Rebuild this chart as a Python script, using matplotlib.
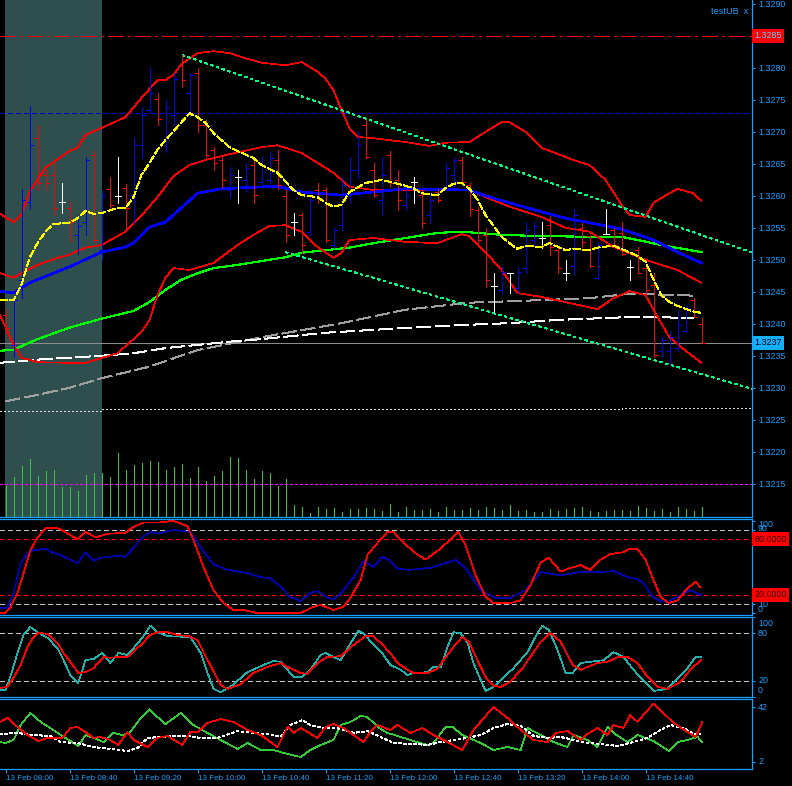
import numpy as np
import matplotlib
matplotlib.use("Agg")
import matplotlib.pyplot as plt

# ---- 5 minute bars, 13 Feb 08:00 ... 15:15 ----
opens = [1.32414, 1.32367, 1.32469, 1.32590, 1.32690, 1.32633, 1.32633, 1.32590, 1.32581, 1.32539,
         1.32559, 1.32664, 1.32515, 1.32611, 1.32600, 1.32612, 1.32601, 1.32679, 1.32734, 1.32751,
         1.32687, 1.32726, 1.32804, 1.32761, 1.32792, 1.32711, 1.32672, 1.32656, 1.32609, 1.32629,
         1.32625, 1.32648, 1.32622, 1.32625, 1.32656, 1.32600, 1.32559, 1.32570, 1.32544, 1.32609,
         1.32609, 1.32523, 1.32554, 1.32601, 1.32640, 1.32711, 1.32640, 1.32594, 1.32664, 1.32625,
         1.32586, 1.32622, 1.32601, 1.32570, 1.32606, 1.32614, 1.32633, 1.32656, 1.32617, 1.32578,
         1.32539, 1.32459, 1.32453, 1.32479, 1.32456, 1.32487, 1.32531, 1.32534, 1.32554, 1.32515,
         1.32479, 1.32490, 1.32550, 1.32537, 1.32472, 1.32540, 1.32547, 1.32542, 1.32489, 1.32515,
         1.32487, 1.32461, 1.32358, 1.32358, 1.32362, 1.32389, 1.32437, 1.32400]
highs = [1.32422, 1.32440, 1.32611, 1.32740, 1.32711, 1.32640, 1.32653, 1.32620, 1.32590, 1.32570,
         1.32661, 1.32670, 1.32609, 1.32629, 1.32661, 1.32619, 1.32690, 1.32739, 1.32800, 1.32761,
         1.32750, 1.32792, 1.32820, 1.32792, 1.32800, 1.32719, 1.32676, 1.32664, 1.32645, 1.32640,
         1.32651, 1.32661, 1.32661, 1.32669, 1.32672, 1.32609, 1.32573, 1.32573, 1.32598, 1.32620,
         1.32614, 1.32550, 1.32629, 1.32661, 1.32700, 1.32720, 1.32651, 1.32661, 1.32670, 1.32640,
         1.32609, 1.32629, 1.32609, 1.32598, 1.32611, 1.32651, 1.32661, 1.32661, 1.32620, 1.32583,
         1.32550, 1.32479, 1.32490, 1.32479, 1.32489, 1.32559, 1.32559, 1.32559, 1.32569, 1.32522,
         1.32500, 1.32580, 1.32558, 1.32539, 1.32528, 1.32580, 1.32550, 1.32559, 1.32500, 1.32520,
         1.32490, 1.32479, 1.32379, 1.32389, 1.32420, 1.32429, 1.32440, 1.32409]
lows = [1.32386, 1.32348, 1.32440, 1.32580, 1.32609, 1.32609, 1.32570, 1.32573, 1.32528, 1.32509,
        1.32539, 1.32528, 1.32500, 1.32578, 1.32589, 1.32550, 1.32558, 1.32659, 1.32729, 1.32711,
        1.32669, 1.32711, 1.32770, 1.32726, 1.32700, 1.32659, 1.32640, 1.32612, 1.32598, 1.32589,
        1.32606, 1.32589, 1.32614, 1.32614, 1.32611, 1.32528, 1.32539, 1.32511, 1.32539, 1.32589,
        1.32528, 1.32519, 1.32547, 1.32589, 1.32628, 1.32659, 1.32598, 1.32570, 1.32614, 1.32578,
        1.32578, 1.32589, 1.32550, 1.32558, 1.32590, 1.32609, 1.32609, 1.32619, 1.32569, 1.32526,
        1.32458, 1.32419, 1.32448, 1.32448, 1.32448, 1.32479, 1.32520, 1.32519, 1.32508, 1.32479,
        1.32469, 1.32478, 1.32520, 1.32489, 1.32470, 1.32540, 1.32520, 1.32508, 1.32469, 1.32479,
        1.32440, 1.32348, 1.32348, 1.32337, 1.32358, 1.32387, 1.32411, 1.32370]
closes = [1.32394, 1.32437, 1.32594, 1.32679, 1.32620, 1.32620, 1.32581, 1.32590, 1.32559, 1.32553,
          1.32656, 1.32531, 1.32600, 1.32586, 1.32600, 1.32581, 1.32679, 1.32726, 1.32761, 1.32720,
          1.32737, 1.32783, 1.32781, 1.32789, 1.32711, 1.32664, 1.32651, 1.32625, 1.32633, 1.32629,
          1.32644, 1.32601, 1.32648, 1.32659, 1.32617, 1.32539, 1.32559, 1.32523, 1.32594, 1.32597,
          1.32531, 1.32547, 1.32617, 1.32640, 1.32679, 1.32661, 1.32601, 1.32633, 1.32620, 1.32594,
          1.32601, 1.32622, 1.32558, 1.32594, 1.32594, 1.32644, 1.32656, 1.32622, 1.32580, 1.32531,
          1.32469, 1.32459, 1.32481, 1.32479, 1.32481, 1.32547, 1.32553, 1.32534, 1.32520, 1.32487,
          1.32479, 1.32570, 1.32528, 1.32490, 1.32523, 1.32540, 1.32523, 1.32509, 1.32489, 1.32479,
          1.32453, 1.32351, 1.32375, 1.32379, 1.32398, 1.32425, 1.32411, 1.32370]
volumes = [155, 200, 255, 290, 205, 230, 235, 150, 150, 130, 210, 220, 220, 200, 320, 235, 260, 270,
           280, 275, 235, 250, 265, 195, 250, 180, 205, 230, 300, 295, 235, 190, 230, 220, 155, 190,
           60, 50, 20, 50, 40, 45, 25, 40, 40, 45, 40, 30, 65, 25, 50, 35, 35, 40, 25, 50, 35, 35,
           45, 35, 50, 45, 35, 60, 30, 35, 25, 25, 40, 30, 40, 45, 50, 30, 25, 30, 35, 35, 30, 55,
           45, 30, 40, 25, 50, 40, 30, 50]
time_labels = ["13 Feb 08:00", "13 Feb 08:40", "13 Feb 09:20", "13 Feb 10:00", "13 Feb 10:40",
               "13 Feb 11:20", "13 Feb 12:00", "13 Feb 12:40", "13 Feb 13:20", "13 Feb 14:00",
               "13 Feb 14:40"]
price_ticks = [1.3215, 1.3220, 1.3225, 1.3230, 1.3235, 1.3240, 1.3245, 1.3250, 1.3255, 1.3260,
               1.3265, 1.3270, 1.3275, 1.3280, 1.3285, 1.3290]

# ---- indicator lines on the price chart (bar position, value) ----
band_up_t = [-0.7, 1, 2, 3, 5, 8, 9, 10, 12, 15, 17, 19, 20, 21, 22, 24, 26, 28, 30, 32, 35, 37, 39, 40,
             41, 42, 43, 44, 46, 50, 53, 55, 58, 60, 62, 63, 65, 67, 71, 73, 75, 77, 78, 80, 81, 83,
             84, 86, 87]
band_up_v = [1.32572, 1.32559, 1.32570, 1.32606, 1.32644, 1.32670, 1.32675, 1.32695, 1.32706, 1.32723,
             1.32753, 1.32781, 1.32781, 1.32789, 1.32806, 1.32823, 1.32826, 1.32823, 1.32815, 1.32808,
             1.32804, 1.32809, 1.32794, 1.32783, 1.32765, 1.32734, 1.32706, 1.32692, 1.32690, 1.32684,
             1.32678, 1.32683, 1.32684, 1.32700, 1.32715, 1.32715, 1.32700, 1.32675, 1.32656, 1.32648,
             1.32625, 1.32586, 1.32570, 1.32567, 1.32589, 1.32604, 1.32611, 1.32604, 1.32592]
band_mid_t = [-0.7, 1, 2, 4, 6, 8, 10, 12, 15, 17, 19, 21, 23, 25, 28, 32, 34, 37, 41, 43, 46, 54, 58,
              60, 63, 67, 70, 73, 76, 80, 84, 87]
band_mid_v = [1.32479, 1.32472, 1.32479, 1.32492, 1.32501, 1.32508, 1.32519, 1.32523, 1.32544, 1.32569,
              1.32598, 1.32631, 1.32648, 1.32656, 1.32665, 1.32676, 1.32679, 1.32667, 1.32636, 1.32614,
              1.32609, 1.32609, 1.32609, 1.32598, 1.32583, 1.32567, 1.32550, 1.32544, 1.32520, 1.32500,
              1.32484, 1.32464]
band_dn_t = [-0.7, 1, 2, 4, 8, 10, 14, 17, 18, 19, 20, 21, 23, 26, 29, 31, 33, 35, 37, 39, 41, 42, 43,
             46, 50, 54, 57, 58, 60, 62, 64, 67, 71, 74, 76, 78, 80, 81, 82, 83, 85, 87]
band_dn_v = [1.32414, 1.32367, 1.32347, 1.32340, 1.32339, 1.32339, 1.32354, 1.32387, 1.32406, 1.32445,
             1.32472, 1.32487, 1.32484, 1.32495, 1.32523, 1.32539, 1.32553, 1.32554, 1.32544, 1.32520,
             1.32503, 1.32511, 1.32531, 1.32534, 1.32528, 1.32526, 1.32540, 1.32537, 1.32512, 1.32484,
             1.32448, 1.32442, 1.32431, 1.32423, 1.32440, 1.32451, 1.32445, 1.32422, 1.32400, 1.32379,
             1.32358, 1.32339]
ma_blue_t = [-0.7, 1, 3, 8, 12, 15, 16, 18, 20, 24, 27, 34, 37, 42, 50, 58, 60, 63, 67, 70, 73, 77, 81,
             84, 87]
ma_blue_v = [1.32451, 1.32448, 1.32464, 1.32489, 1.32512, 1.32520, 1.32526, 1.32551, 1.32559, 1.32604,
             1.32611, 1.32615, 1.32606, 1.32601, 1.32611, 1.32609, 1.32600, 1.32589, 1.32575, 1.32565,
             1.32558, 1.32548, 1.32531, 1.32512, 1.32495]
ma_green_t = [-0.7, 1, 2, 4, 8, 12, 14, 16, 18, 20, 22, 24, 26, 29, 32, 35, 37, 43, 46, 50, 54, 57, 62,
              67, 73, 77, 79, 82, 87]
ma_green_v = [1.32358, 1.32359, 1.32365, 1.32376, 1.32394, 1.32408, 1.32414, 1.32420, 1.32434, 1.32453,
              1.32469, 1.32479, 1.32487, 1.32492, 1.32498, 1.32504, 1.32511, 1.32519, 1.32526, 1.32534,
              1.32542, 1.32544, 1.32539, 1.32537, 1.32536, 1.32536, 1.32531, 1.32523, 1.32512]
ma_white_t = [-0.7, 4, 8, 12, 16, 20, 24, 28, 32, 40, 48, 55, 63, 69, 73, 79, 86]
ma_white_v = [1.32339, 1.32344, 1.32347, 1.32350, 1.32354, 1.32362, 1.32367, 1.32372, 1.32376, 1.32386,
              1.32392, 1.32397, 1.32401, 1.32406, 1.32408, 1.32411, 1.32409]
ma_grey_t = [0, 4, 8, 12, 18, 24, 32, 42, 50, 58, 67, 73, 78, 86]
ma_grey_v = [1.32279, 1.32289, 1.32300, 1.32315, 1.32333, 1.32359, 1.32379, 1.32401, 1.32422, 1.32433,
             1.32437, 1.32440, 1.32447, 1.32444]
fast_t = [-0.7, 1, 2, 3, 4, 5, 6, 8, 9, 10, 11, 12, 14, 15, 16, 17, 18, 19, 20, 22, 23, 24, 25, 26, 28,
          29, 31, 32, 34, 36, 37, 39, 40, 41, 42, 43, 45, 47, 49, 51, 52, 54, 55, 56, 57, 58, 59, 60,
          61, 62, 63, 64, 65, 67, 68, 70, 71, 73, 74, 76, 77, 79, 80, 81, 82, 83, 84, 86, 87]
fast_v = [1.32437, 1.32437, 1.32461, 1.32503, 1.32526, 1.32544, 1.32556, 1.32558, 1.32565, 1.32576,
          1.32572, 1.32573, 1.32581, 1.32581, 1.32598, 1.32633, 1.32651, 1.32672, 1.32687, 1.32715,
          1.32729, 1.32723, 1.32714, 1.32698, 1.32676, 1.32670, 1.32659, 1.32648, 1.32636, 1.32609,
          1.32601, 1.32598, 1.32589, 1.32583, 1.32586, 1.32606, 1.32620, 1.32625, 1.32619, 1.32612,
          1.32604, 1.32601, 1.32612, 1.32619, 1.32620, 1.32611, 1.32594, 1.32570, 1.32553, 1.32536,
          1.32526, 1.32517, 1.32522, 1.32520, 1.32526, 1.32515, 1.32517, 1.32515, 1.32519, 1.32522,
          1.32517, 1.32506, 1.32497, 1.32469, 1.32444, 1.32434, 1.32428, 1.32419, 1.32417]
trend_up_t = [22.1, 93.4]
trend_up_v = [1.32820, 1.32511]
trend_dn_t = [35.0, 93.4]
trend_dn_v = [1.32512, 1.32298]
support_t = [-0.7, 12, 77, 93.4]
support_v = [1.32264, 1.32267, 1.32269, 1.32269]
level_resist = 1.3285
level_blue = 1.32729
last_price = 1.3237
vol_level = 165

# ---- sub window 1 (0..100) ----
osc1_red_t = [-0.7, 0, 0.6, 1.5, 2.25, 3.1, 4, 5, 6.5, 7.25, 9, 10, 11.25, 12.75, 15, 15.9, 17.25, 19, 21,
              22.75, 23.5, 24.75, 26, 27.25, 28.5, 29.75, 31.5, 36.9, 38.5, 39.4, 41, 42.25, 43.1, 44.4,
              45.25, 46.5, 47.75, 48.5, 49.4, 51.25, 52.5, 54.4, 56.6, 57.5, 58.75, 60, 61, 63.1, 64.4,
              65.6, 66.9, 67.9, 69.4, 70.6, 71.9, 73.1, 74.4, 75.6, 77.25, 77.9, 79, 80, 81, 81.9, 82.9,
              84, 85.25, 86.25, 86.9]
osc1_red_v = [0.3, 0.3, 6, 22, 43, 68, 82, 92, 92, 89, 80, 88, 82, 86, 87, 93, 98, 98, 100, 94, 79, 50,
              25, 11, 3.5, 3.5, 0.3, 0.3, 7, 9, 3.5, 7, 16.5, 36, 63, 76, 88, 88, 79, 65, 58, 70, 88, 74,
              41, 18, 11, 11, 14, 30, 55, 60, 45, 49, 52, 47, 58, 64, 66, 69.5, 69.5, 58, 36, 17.6, 11,
              14, 27, 34, 28]
osc1_blue_t = [-0.7, 0.25, 1, 1.9, 2.75, 3.5, 5, 6, 6.9, 9, 10, 11, 11.9, 14, 15, 17.1, 18.1, 19, 21,
               23.1, 24.4, 26, 27.75, 30.25, 31.9, 33.1, 34.4, 35.6, 36.9, 38.1, 39, 40.25, 41, 41.9,
               43.5, 44.75, 46, 47.1, 48.1, 49.1, 50.6, 53.1, 56.25, 57.5, 59.4, 61.25, 63.1, 65, 66.9,
               69.4, 71.9, 74.4, 76, 77.75, 79, 79.75, 80.9, 81.9, 82.75, 84.4, 85.6, 86.9]
osc1_blue_v = [5.7, 5.7, 22, 54, 65, 68, 70, 65, 63, 54, 66, 56.5, 60, 62, 61, 82, 88, 86, 90, 88, 71,
               53, 47, 43.5, 39, 38, 28.4, 17.6, 13.2, 22, 24, 16.5, 15.4, 21, 39, 56.5, 50, 61, 56.5,
               48, 47, 49, 57.6, 49, 25, 16.5, 16.5, 25, 44.6, 41, 44.6, 44.6, 45.7, 39, 37, 32.7, 17.6,
               13.2, 12.2, 19.7, 25, 19.7]

# ---- sub window 2 (0..100) ----
osc2_teal_t = [-0.7, 0, 0.6, 1.5, 2.25, 3.1, 4, 5.25, 6.5, 7.25, 8.1, 9.1, 10, 11, 12.1, 13.1, 14.1,
               15.25, 16, 17.1, 18.1, 19, 20.25, 23.1, 24.4, 25.25, 26, 26.9, 28.1, 30.25, 32.25, 33.5,
               34.4, 36, 37.1, 38.1, 39.4, 40, 41, 41.9, 42.75, 44.1, 44.75, 46, 47.25, 48.1, 49.4,
               50.25, 51, 52.75, 53.5, 54.4, 55.25, 56, 56.9, 57.75, 58.5, 59.4, 60, 61, 63.5, 65.25,
               66.5, 67.1, 67.9, 69, 70, 70.9, 71.9, 73.1, 74.75, 76, 77.25, 78.5, 79.75, 81, 82.75,
               83.5, 85.25, 86.25, 86.9]
osc2_teal_v = [8.75, 8.75, 25, 55, 77.5, 87.5, 81, 74, 61, 46, 27.5, 17.5, 46, 47.5, 55, 42.5, 55, 52.5,
               61, 74, 89, 81, 76, 75, 55, 30, 10, 6, 12.5, 31, 40, 45, 44, 25, 25, 34, 52.5, 55, 50, 46,
               61, 82.5, 80, 65, 52.5, 40, 34, 27.5, 30, 31, 37.5, 37.5, 62.5, 81, 80, 67.5, 42.5, 21,
               7.5, 12.5, 36, 56, 80, 89, 84, 59, 30, 30, 42.5, 44, 46, 56, 50, 34, 20, 7.5, 10, 17.5,
               36, 50, 50]
osc2_red_t = [-0.7, 0.25, 1, 1.9, 2.75, 3.5, 4.1, 5.25, 6.5, 7.25, 8.4, 9.1, 10, 11, 12.25, 13.1, 14,
              15.25, 16.9, 18.1, 19, 20.25, 21.5, 22.9, 24, 24.75, 25.9, 26.9, 27.75, 29.4, 31, 32.75,
              34.4, 35.25, 36.9, 37.75, 39, 40.25, 41.9, 43.5, 45, 45.9, 46.9, 48.1, 49, 50.25, 51,
              52.75, 54, 54.75, 56, 57.1, 57.9, 59, 60, 61, 61.9, 63.1, 64.75, 66.9, 68.1, 69.4, 70.9,
              71.9, 74, 75.25, 76.6, 77.75, 79, 80.25, 81.5, 82.75, 84.4, 85.6, 86.9]
osc2_red_v = [11.25, 12.5, 24, 40, 62.5, 75, 80, 79, 67.5, 55, 40, 30, 31, 36, 50, 49, 50, 50, 65, 77.5,
              81, 81, 77.5, 76, 71, 56, 34, 15, 10, 16, 30, 37.5, 42.5, 37.5, 30, 29, 42.5, 50, 51, 65,
              76, 76, 67.5, 55, 42.5, 34, 30, 30, 35, 46, 62.5, 75, 69, 46, 25, 14, 12.5, 19, 37.5, 69,
              80, 69, 40, 34, 42.5, 44, 50, 50, 42.5, 25, 12.5, 10, 19, 34, 46]

# ---- sub window 3 ----
osc3_red_t = [-0.7, 0.25, 1.5, 2.75, 4.1, 5.25, 7.1, 8.1, 9, 10, 11, 11.9, 13.1, 14.1, 15.25, 16, 17.75,
              19, 20.25, 22.1, 23.1, 24, 25.25, 26.9, 28.5, 30.25, 31.9, 34, 35.25, 36, 36.9, 39, 40,
              41, 42.25, 43.5, 44.75, 45.6, 46.5, 48.1, 49, 50.6, 52.1, 53.5, 55.25, 57.1, 58.5, 61,
              62.75, 64.4, 66, 67.75, 68.75, 70.25, 71.9, 72.75, 74, 75.25, 76, 77.25, 78.1, 79, 80.25,
              81, 82.25, 83.5, 85.25, 86.25, 87.1]
osc3_red_v = [31.1, 34, 27.5, 21.6, 17.3, 19.5, 19.5, 26.7, 27.5, 23.8, 19.5, 20.2, 18, 14.4, 23.8, 18,
              12.9, 19.5, 20.9, 14.4, 23.8, 23.8, 30.4, 33.3, 31.1, 25.3, 21.6, 12.9, 27.5, 23.1, 26.7,
              19.5, 27.5, 29.6, 26.7, 21.6, 16.5, 23.8, 28.9, 25.3, 28.9, 23.1, 26.7, 21.6, 16.5, 10.7,
              25.3, 42, 34, 25.3, 18, 16.5, 23.1, 24.5, 18, 22.4, 26.7, 21.6, 28.9, 26.7, 36.2, 31.1,
              39.8, 44.2, 37.6, 30.4, 23.8, 20.2, 31.1]
osc3_green_t = [-0.7, 0, 1, 1.9, 3.1, 4.4, 5.6, 6.9, 8.1, 9.1, 10, 11, 12.25, 13.5, 14.6, 15.6, 16.9, 18,
                19, 20, 21.9, 23.5, 25.25, 26.9, 29, 30.25, 31.9, 33.5, 35.25, 36.9, 38.1, 39.4, 41,
                41.9, 43.1, 44.4, 45.25, 46.5, 47.75, 49.4, 51, 52.75, 53.5, 55, 55.9, 57.1, 59.4, 61,
                62.75, 64.4, 65.25, 66.9, 68.5, 70.25, 71, 72.75, 74, 75.25, 76, 77.75, 79, 81, 82.9,
                84, 85.25, 86.5, 87.1]
osc3_green_v = [16.5, 15.8, 18, 28.9, 37.6, 31.1, 26.7, 21.6, 17.3, 13.6, 21.6, 19.5, 16.5, 23.1, 21.6,
                23.8, 34, 40.5, 34.7, 29.6, 37.6, 28.9, 23.1, 18, 11.5, 15.8, 10.7, 10.7, 7.8, 5.6, 10.7,
                14.4, 18, 28.9, 31.1, 35.5, 34.7, 27.5, 23.1, 20.2, 17.3, 14.4, 15.8, 27.5, 27.5, 21.6,
                15.8, 10.7, 12.9, 10.7, 26.7, 21.6, 16.5, 12.9, 21.6, 18, 12.9, 27.5, 23.1, 16.5, 21.6,
                17.3, 10, 16.5, 18, 20.2, 16.5]
osc3_white_t = [-0.7, 1.5, 3.5, 5.6, 6.9, 9, 11, 13.1, 15.25, 16.5, 17.75, 19.4, 21, 22.75, 24.4, 26.5,
                29, 31, 32.75, 34.4, 35.6, 37.1, 38.1, 39.75, 41.5, 43.5, 45.25, 46.9, 48.5, 51, 52.75,
                54.4, 56, 57.75, 59.4, 61, 62.75, 64.4, 66, 67.75, 69.4, 71, 72.75, 74.4, 76.5, 78.5,
                80.25, 81.9, 83.1, 84.75, 86, 86.9]
osc3_white_v = [22.4, 23.1, 21.6, 20.9, 16.5, 15.8, 12.9, 11.5, 10, 12.2, 19.5, 20.2, 20.9, 20.9, 19.5,
                19.5, 24.5, 23.1, 22.4, 20.2, 28.9, 32.5, 28.9, 26.7, 26.7, 23.1, 24.5, 20.2, 15.8, 15.1,
                14.4, 16.5, 18, 19.5, 21.6, 26.7, 29.6, 28.2, 20.9, 19.5, 20.2, 18, 15.8, 15.1, 13.6,
                16.5, 19.5, 25.3, 28.9, 26.7, 22.4, 22.4]

axis_col = "#1a9fff"
thin = 0.5   # a hard 1 pixel line when antialiasing is off
plt.rcParams["font.family"] = ["Liberation Sans", "DejaVu Sans"]
plt.rcParams["lines.antialiased"] = False

# bar i sits on pixel column 5 + 8*i, 8 px per bar, plot area 752 px wide
x_lo = -5.5 / 8
x_hi = x_lo + 752 / 8

fig = plt.figure(figsize=(7.92, 7.86), dpi=100, facecolor="black")
ax = fig.add_axes([0, 0.3422, 0.9495, 0.6578])
ax2 = fig.add_axes([0, 0.2179, 0.9495, 0.1214])
ax3 = fig.add_axes([0, 0.1129, 0.9495, 0.1025])
ax4 = fig.add_axes([0, 0.0220, 0.9495, 0.0883])

# volume sits behind the price window
axv = ax.twinx()
axv.set_ylim(0, 2585)
axv.set_xlim(x_lo, x_hi)
axv.axis("off")
axv.set_zorder(ax.get_zorder() - 1)
ax.patch.set_visible(False)

for a in (ax, ax2, ax3, ax4):
    a.set_facecolor("black")
    a.set_xlim(x_lo, x_hi)
    a.spines["left"].set_visible(False)
    for s in ("right", "top", "bottom"):
        a.spines[s].set_color(axis_col)
        a.spines[s].set_linewidth(0.9)
    a.yaxis.tick_right()
    a.tick_params(axis="y", colors=axis_col, length=2.5, width=0.7, pad=2, labelsize=6.4,
                  left=False, labelleft=False, right=True, labelright=True)
    a.tick_params(axis="x", bottom=False, labelbottom=False)
ax.spines["top"].set_visible(False)

# ---- main price window ----
ax.set_ylim(1.32098, 1.32906)
idx = np.arange(len(opens))
o = np.array(opens)
c = np.array(closes)
cols = np.where(c > o, "#0000ff", np.where(c < o, "#ff0000", "#ffffff"))

axv.axvspan(-0.0625, 12.0625, color="#2f4f4f", lw=0, zorder=0)
axv.vlines(idx, 0, volumes, colors="#32cd32", lw=thin, zorder=1, antialiased=False)
axv.axhline(vol_level, color="#ff00ff", lw=thin, dashes=(4, 3.5))

ax.axhline(level_resist, color="#ff0000", lw=thin, dashes=(22, 7, 4, 7))
ax.axhline(level_blue, color="#0000cd", lw=thin, dashes=(6, 5))
ax.axhline(last_price, color="#8c8c8c", lw=thin)
ax.plot(support_t, support_v, color="#e0e0e0", lw=thin, dashes=(2.2, 3.2), drawstyle="steps-post")

ax.plot(ma_grey_t, ma_grey_v, color="#a0a0a0", lw=0.8, dashes=(13, 4))
ax.plot(ma_white_t, ma_white_v, color="#ffffff", lw=0.8, dashes=(13, 4))
ax.plot(ma_green_t, ma_green_v, color="#00ff00", lw=0.8)
ax.plot(band_up_t, band_up_v, color="#ff0000", lw=thin)
ax.plot(band_mid_t, band_mid_v, color="#ff0000", lw=thin)
ax.plot(band_dn_t, band_dn_v, color="#ff0000", lw=thin)
ax.plot(ma_blue_t, ma_blue_v, color="#0000ff", lw=1.2)
ax.plot(trend_up_t, trend_up_v, color="#00ff80", lw=0.8, dashes=(2, 3.5))
ax.plot(trend_dn_t, trend_dn_v, color="#00ff80", lw=0.8, dashes=(2, 3.5))

# OHLC bars
ax.vlines(idx, lows, highs, colors=cols, lw=thin, zorder=4, antialiased=False)
ax.hlines(opens, idx - 0.375, idx, colors=cols, lw=thin, zorder=4, antialiased=False)
ax.hlines(closes, idx, idx + 0.375, colors=cols, lw=thin, zorder=4, antialiased=False)

ax.plot(fast_t, fast_v, color="#ffff00", lw=thin, dashes=(11, 3), zorder=5)

ax.set_yticks(price_ticks)
ax.set_yticklabels(["" if abs(p - level_resist) < 1e-9 else "%.4f" % p for p in price_ticks])
ytr = ax.get_yaxis_transform()
ax.text(1.003, level_resist, "%.4f" % level_resist, transform=ytr, ha="left", va="center",
        fontsize=6.4, color="#5fd0ff", bbox=dict(boxstyle="square,pad=0.3", fc="#ff0000", ec="none"))
ax.text(1.003, last_price, "%.4f" % last_price, transform=ytr, ha="left", va="center",
        fontsize=6.4, color="#000000", bbox=dict(boxstyle="square,pad=0.3", fc="#12b0ff", ec="none"))
ax.text(0.995, 0.977, "testUB  x", transform=ax.transAxes, ha="right", va="center",
        fontsize=6.6, color=axis_col)

# ---- window 2 ----
ax2.set_ylim(-1.6, 101.6)
for lv, lc in ((90, "#c8c8c8"), (10, "#c8c8c8"), (80, "#ff0000"), (20, "#ff0000")):
    ax2.axhline(lv, color=lc, lw=thin, dashes=(6, 5))
ax2.plot(osc1_blue_t, osc1_blue_v, color="#0000b0", lw=thin)
ax2.plot(osc1_red_t, osc1_red_v, color="#ff0000", lw=thin)
ax2.set_yticks([0, 10, 90, 100])
ax2.set_yticklabels([])
tr2 = ax2.get_yaxis_transform()
for txt, yv in (("100", 95.5), ("90", 91.5), ("10", 10), ("0", 4.5)):
    ax2.text(1.008, yv, txt, transform=tr2, ha="left", va="center", fontsize=6.4, color=axis_col)
for lv in (80, 20):
    ax2.text(1.003, lv, "%.4f" % lv, transform=tr2, ha="left", va="center", fontsize=6.4,
             color="#300000", bbox=dict(boxstyle="square,pad=0.3", fc="#ff0000", ec="none"))

# ---- window 3 ----
ax3.set_ylim(-0.4, 100.4)
for lv in (80, 20):
    ax3.axhline(lv, color="#c8c8c8", lw=thin, dashes=(6, 5))
ax3.plot(osc2_teal_t, osc2_teal_v, color="#20b2aa", lw=thin)
ax3.plot(osc2_red_t, osc2_red_v, color="#ff0000", lw=thin)
ax3.set_yticks([0, 20, 80, 100])
ax3.set_yticklabels([])
tr3 = ax3.get_yaxis_transform()
for txt, yv in (("100", 92.5), ("80", 80), ("20", 20), ("0", 7.5)):
    ax3.text(1.008, yv, txt, transform=tr3, ha="left", va="center", fontsize=6.4, color=axis_col)

# ---- window 4 ----
ax4.set_ylim(-2.9, 47.6)
ax4.plot(osc3_green_t, osc3_green_v, color="#32cd32", lw=thin)
ax4.plot(osc3_white_t, osc3_white_v, color="#ffffff", lw=thin, dashes=(4, 4))
ax4.plot(osc3_red_t, osc3_red_v, color="#ff0000", lw=thin)
ax4.set_yticks([2, 42])
ax4.set_yticklabels([])
tr4 = ax4.get_yaxis_transform()
for txt, yv in (("42", 42), ("2", 2)):
    ax4.text(1.008, yv, txt, transform=tr4, ha="left", va="center", fontsize=6.4, color=axis_col)

ax4.set_xticks(range(0, 88, 8))
ax4.set_xticklabels(time_labels, ha="left")
ax4.tick_params(axis="x", bottom=True, labelbottom=True, colors=axis_col, direction="out",
                length=3, width=0.7, pad=1.5, labelsize=5.8)

fig.savefig("out.png", dpi=100, facecolor="black")
